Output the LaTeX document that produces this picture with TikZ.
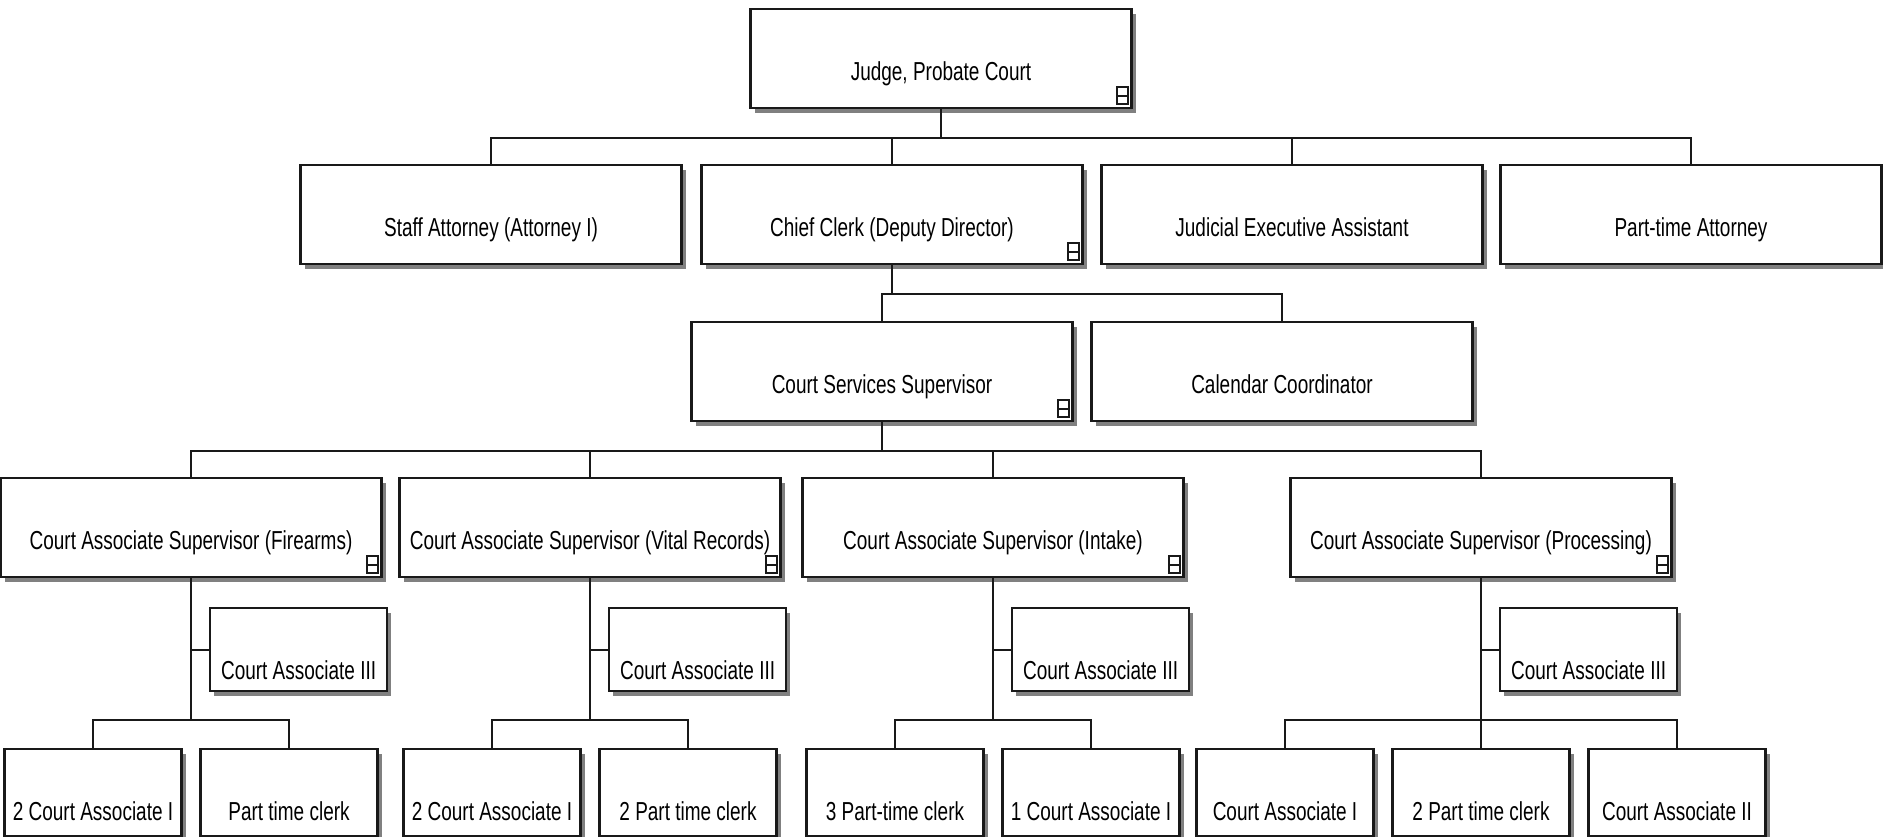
\documentclass[tikz,border=0pt]{standalone}
\usepackage{fontspec}
\usepackage{tikz}
\usetikzlibrary{shadows}
\newfontfamily\orgfont[FakeStretch=0.73]{Liberation Sans}
\colorlet{boxcol}{black!90}
\colorlet{shadecol}{black!50}
\tikzstyle{post}=[draw=boxcol,line width=2.2pt,fill=white,inner sep=0pt,anchor=north,
  minimum width=381pt,minimum height=99pt,text height=71pt,text depth=28pt,
  font=\orgfont\fontsize{26}{30}\selectfont,
  drop shadow={shadow xshift=4pt,shadow yshift=-5pt,fill=shadecol,opacity=1}]
\tikzstyle{aide}=[anchor=north west,minimum width=177pt,minimum height=83pt,text depth=12pt]
\tikzstyle{leaf}=[minimum width=177pt,minimum height=87pt,text depth=16pt]
\tikzstyle{link}=[line width=2.2pt,boxcol]
\def\fold#1{\draw[line width=1.8pt,boxcol]
    ([shift={(-16pt,5pt)}]#1.south east) rectangle ([shift={(-5pt,22pt)}]#1.south east)
    ([shift={(-16pt,13.5pt)}]#1.south east) -- ([shift={(-5pt,13.5pt)}]#1.south east)}

\begin{document}
\begin{tikzpicture}[x=1pt,y=-1pt]
        \def\rowA{8}
        \def\rowB{164}
        \def\rowC{321}
        \def\rowD{477}
        \def\rowE{607}
        \def\rowF{748}
        \useasboundingbox (0,0) rectangle (1883,837);

        % judge and direct staff
        \node[post] (judge) at (941,\rowA) {Judge, Probate Court};
        \node[post] (staff) at (491,\rowB) {Staff Attorney (Attorney I)};
        \node[post] (chief) at (892,\rowB) {Chief Clerk (Deputy Director)};
        \node[post] (jea) at (1292,\rowB) {Judicial Executive Assistant};
        \node[post] (pta) at (1691,\rowB) {Part-time Attorney};
        \node[post] (css) at (882,\rowC) {Court Services Supervisor};
        \node[post] (cal) at (1282,\rowC) {Calendar Coordinator};

        % supervisors
        \node[post] (fire) at (191,\rowD) {Court Associate Supervisor (Firearms)};
        \node[post] (vital) at (590,\rowD) {Court Associate Supervisor (Vital Records)};
        \node[post] (intake) at (993,\rowD) {Court Associate Supervisor (Intake)};
        \node[post] (proc) at (1481,\rowD) {Court Associate Supervisor (Processing)};

        \node[post,aide] (fireC) at (209,\rowE) {Court Associate III};
        \node[post,aide] (vitalC) at (608,\rowE) {Court Associate III};
        \node[post,aide] (intakeC) at (1011,\rowE) {Court Associate III};
        \node[post,aide] (procC) at (1499,\rowE) {Court Associate III};

        \node[post,leaf] (fireA) at (93,\rowF) {2 Court Associate I};
        \node[post,leaf] (fireB) at (289,\rowF) {Part time clerk};
        \node[post,leaf] (vitalA) at (492,\rowF) {2 Court Associate I};
        \node[post,leaf] (vitalB) at (688,\rowF) {2 Part time clerk};
        \node[post,leaf] (intakeA) at (895,\rowF) {3 Part-time clerk};
        \node[post,leaf] (intakeB) at (1091,\rowF) {1 Court Associate I};
        \node[post,leaf] (procA) at (1285,\rowF) {Court Associate I};
        \node[post,leaf] (procB) at (1481,\rowF) {2 Part time clerk};
        \node[post,leaf] (procD) at (1677,\rowF) {Court Associate II};

        % links
        \draw[link] (judge.south) -- ++(0,29) coordinate (busA);
        \draw[link] (staff.north) |- (busA) -| (pta.north);
        \draw[link] (chief.north) |- (busA);
        \draw[link] (jea.north) |- (busA);

        \draw[link] (chief.south) -- ++(0,29) coordinate (busB);
        \draw[link] (css.north) |- (busB) -| (cal.north);

        \draw[link] (css.south) -- ++(0,29) coordinate (busC);
        \draw[link] (fire.north) |- (busC) -| (proc.north);
        \draw[link] (vital.north) |- (busC);
        \draw[link] (intake.north) |- (busC);

        \draw[link] (fire.south) -- ++(0,142) coordinate (fireBus);
        \draw[link] (fireC.west) -- (fireC.west -| fire.south);
        \draw[link] (fireA.north) |- (fireBus) -| (fireB.north);

        \draw[link] (vital.south) -- ++(0,142) coordinate (vitalBus);
        \draw[link] (vitalC.west) -- (vitalC.west -| vital.south);
        \draw[link] (vitalA.north) |- (vitalBus) -| (vitalB.north);

        \draw[link] (intake.south) -- ++(0,142) coordinate (intakeBus);
        \draw[link] (intakeC.west) -- (intakeC.west -| intake.south);
        \draw[link] (intakeA.north) |- (intakeBus) -| (intakeB.north);

        \draw[link] (proc.south) -- ++(0,142) coordinate (procBus);
        \draw[link] (procC.west) -- (procC.west -| proc.south);
        \draw[link] (procA.north) |- (procBus) -| (procD.north);
        \draw[link] (procB.north) -- (procBus);

        \fold{judge};
        \fold{chief};
        \fold{css};
        \fold{fire};
        \fold{vital};
        \fold{intake};
        \fold{proc};
    \end{tikzpicture}
\end{document}
